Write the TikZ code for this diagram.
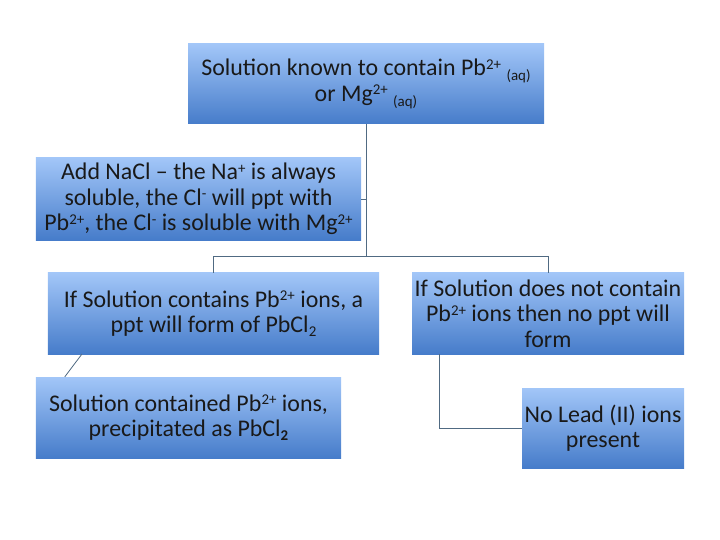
\documentclass[tikz,border=0pt]{standalone}
\usepackage{fontspec}
\setmainfont{Carlito}
\definecolor{boxtop}{RGB}{162,198,248}
\definecolor{boxbot}{RGB}{70,124,202}
\definecolor{linecol}{RGB}{80,106,130}
\newcommand{\aqsub}{\raisebox{-0.45ex}{\fontsize{15}{15}\selectfont(aq)}}
\newcommand{\ionup}[1]{\raisebox{0.55ex}{\fontsize{15}{15}\selectfont#1}}
\newcommand{\iondown}[1]{\raisebox{-0.35ex}{\fontsize{15}{15}\selectfont#1}}
\begin{document}
\begin{tikzpicture}[x=1bp,y=-1bp,
    stepbox/.style={rectangle,top color=boxtop,bottom color=boxbot,inner sep=0pt,
      align=center,text=black!90,font=\fontsize{24}{25.5}\selectfont},
    link/.style={draw=linecol,line width=0.8bp}]
    \useasboundingbox (0,0) rectangle (720,540);

    \node[stepbox,minimum width=356bp,minimum height=80bp] (start) at (366,84)
        {Solution known to contain Pb\ionup{2+} \aqsub\\or Mg\ionup{2+} \aqsub};
    \node[stepbox,minimum width=325bp,minimum height=82bp] (nacl) at (198.5,199)
        {Add NaCl -- the Na\ionup{+} is always\\soluble, the Cl\ionup{-} will ppt with\\Pb\ionup{2+}, the Cl\ionup{-} is soluble with Mg\ionup{2+}};
    \node[stepbox,minimum width=331bp,minimum height=81bp] (ifpb) at (213.5,313.5)
        {If Solution contains Pb\ionup{2+} ions, a\\ppt will form of PbCl\iondown{2}};
    \node[stepbox,minimum width=272bp,minimum height=81bp] (nopb) at (548,313.5)
        {If Solution does not contain\\Pb\ionup{2+} ions then no ppt will\\form};
    \node[stepbox,minimum width=305bp,minimum height=81bp] (pbcl) at (188.5,417.5)
        {Solution contained Pb\ionup{2+} ions,\\precipitated as PbCl\iondown{\textbf{2}}};
    \node[stepbox,minimum width=162bp,minimum height=80bp] (nolead) at (603,428)
        {No Lead (II) ions\\present};

    \coordinate (split) at (366,256);
    \draw[link] (start.south) -- (split);
    \draw[link] (nacl.east) -| (split);
    \draw[link] (split) -| (ifpb.north);
    \draw[link] (split) -| (nopb.north);
    \draw[link] ([xshift=34bp]ifpb.south west) -- ([xshift=29bp]pbcl.north west);
    \draw[link] ([xshift=28bp]nopb.south west) |- (nolead.west);
\end{tikzpicture}
\end{document}
